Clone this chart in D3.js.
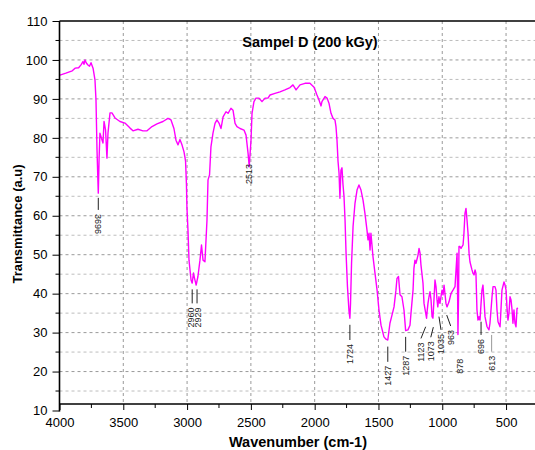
<!DOCTYPE html>
<html>
<head>
<meta charset="utf-8">
<script src="https://cdn.jsdelivr.net/npm/d3@7"></script>
<style>
  body { margin: 0; background: #fff; }
  text { font-family: "Liberation Sans", Arial, sans-serif; }
</style>
</head>
<body>
<svg id="chart" width="535" height="450"></svg>
<script>
// spectrum (wavenumber cm-1 -> transmittance)
const wavenumber = [3996, 3950, 3900, 3878, 3850, 3830, 3816, 3808, 3800, 3790, 3777, 3765, 3753, 3737, 3722, 3714, 3706, 3696, 3690, 3683,
	3671, 3659, 3651, 3639, 3628, 3620, 3604, 3589, 3565, 3526, 3487, 3447, 3424, 3385, 3346, 3314, 3275, 3236, 3189, 3150,
	3126, 3103, 3087, 3071, 3056, 3040, 3024, 3012, 3005, 3001, 2993, 2985, 2969, 2960, 2950, 2942, 2929, 2915, 2899, 2887,
	2875, 2860, 2844, 2836, 2824, 2813, 2797, 2781, 2766, 2750, 2734, 2718, 2695, 2679, 2656, 2640, 2624, 2609, 2585, 2554,
	2538, 2522, 2513, 2499, 2491, 2476, 2460, 2436, 2413, 2389, 2366, 2350, 2311, 2272, 2233, 2193, 2170, 2146, 2115, 2076,
	2037, 2005, 1982, 1966, 1950, 1943, 1919, 1903, 1888, 1872, 1856, 1841, 1833, 1825, 1817, 1809, 1802, 1794, 1786, 1778,
	1770, 1762, 1754, 1743, 1731, 1724, 1719, 1711, 1699, 1684, 1668, 1653, 1637, 1621, 1606, 1590, 1582, 1574, 1566, 1559,
	1543, 1527, 1511, 1496, 1480, 1457, 1441, 1427, 1410, 1394, 1378, 1363, 1355, 1343, 1331, 1316, 1300, 1287, 1269, 1253,
	1245, 1229, 1222, 1214, 1206, 1190, 1182, 1174, 1167, 1151, 1143, 1123, 1120, 1112, 1104, 1096, 1088, 1080, 1073, 1065,
	1057, 1049, 1041, 1035, 1026, 1018, 1010, 1002, 994, 986, 979, 971, 963, 947, 931, 916, 900, 892, 884, 880,
	877, 872, 869, 861, 853, 845, 837, 830, 822, 814, 806, 798, 790, 783, 767, 759, 751, 743, 736, 728,
	720, 712, 704, 696, 689, 681, 673, 665, 649, 634, 626, 610, 602, 587, 579, 571, 563, 547, 540, 532,
	516, 508, 500, 493, 485, 477, 469, 461, 453, 446, 438, 430, 422, 414, 406];

const transmittance = [96.1, 96.6, 97.2, 97.9, 98.0, 98.8, 99.6, 98.9, 100.0, 99.2, 98.7, 98.4, 99.3, 97.9, 94.9, 89.7, 76.9, 65.8, 74.3, 81.2,
	79.9, 78.7, 84.2, 82.0, 74.8, 81.2, 86.4, 86.4, 85.1, 84.2, 83.8, 82.5, 81.8, 82.2, 81.8, 81.8, 82.9, 83.6, 84.2, 85.0,
	84.6, 82.4, 79.4, 78.2, 79.6, 78.2, 76.4, 74.0, 68.0, 62.0, 56.3, 48.6, 43.5, 42.7, 45.3, 44.0, 42.2, 44.4, 48.6, 52.5,
	48.6, 48.2, 58.9, 69.2, 70.5, 77.7, 81.2, 83.7, 84.6, 83.8, 82.4, 85.4, 86.7, 86.3, 87.6, 87.1, 83.7, 82.9, 82.4, 82.0,
	80.7, 76.0, 72.6, 79.4, 86.3, 89.3, 90.2, 90.2, 89.3, 90.2, 90.2, 91.0, 91.4, 91.8, 92.3, 92.9, 93.6, 92.3, 93.6, 94.0,
	94.0, 93.0, 91.0, 89.7, 88.2, 89.3, 90.6, 90.2, 88.9, 86.3, 85.0, 84.6, 82.9, 79.4, 74.0, 70.9, 64.5, 71.7, 72.3, 68.0,
	64.9, 58.9, 50.4, 41.8, 35.5, 33.7, 37.5, 47.8, 57.3, 63.2, 66.6, 67.9, 66.6, 64.0, 60.6, 56.3, 53.8, 55.5, 51.2, 55.5,
	49.5, 45.2, 40.9, 35.8, 31.9, 28.9, 28.3, 28.1, 32.4, 34.5, 36.6, 40.9, 43.9, 44.4, 39.7, 39.2, 35.8, 30.5, 30.7, 31.9,
	35.0, 40.9, 46.5, 48.6, 47.8, 49.9, 51.6, 50.4, 47.4, 42.7, 37.5, 33.7, 35.0, 37.5, 39.2, 40.5, 38.4, 34.1, 33.7, 38.4,
	43.5, 41.8, 38.4, 36.6, 39.2, 37.5, 39.2, 40.9, 39.7, 42.2, 40.1, 37.5, 36.6, 37.9, 40.1, 40.9, 41.8, 46.1, 50.4, 40.9,
	29.5, 40.0, 52.1, 52.1, 51.6, 52.1, 52.5, 55.5, 60.6, 61.9, 58.9, 55.5, 50.4, 48.2, 46.1, 45.2, 44.8, 46.1, 45.2, 35.8,
	33.2, 34.1, 33.2, 37.5, 40.9, 42.2, 38.4, 34.1, 31.5, 30.7, 32.4, 39.2, 41.8, 41.8, 40.9, 35.8, 32.8, 31.5, 35.8, 40.9,
	43.0, 42.2, 40.9, 36.6, 33.2, 35.0, 39.2, 38.4, 35.8, 32.4, 35.8, 32.4, 31.5, 36.2, 36.3];

const xTicks = [4000, 3500, 3000, 2500, 2000, 1500, 1000, 500];
const yTicks = [10, 20, 30, 40, 50, 60, 70, 80, 90, 100, 110];

// peak labels: wn = where the leader starts, wnText = where the text sits,
// tFrom/tTo = leader ends in transmittance units, down = reads top-down
const peaks = [
	{ label: "3696", wn: 3696, wnText: 3696, tFrom: 64.6, tTo: 61.5, down: true },
	{ label: "2960", wn: 2960, wnText: 2968, tFrom: 41.1, tTo: 37.5 },
	{ label: "2929", wn: 2922, wnText: 2914, tFrom: 41.1, tTo: 37.5 },
	{ label: "2513", wn: 2513, wnText: 2513, tFrom: 73.3, tTo: 73.3, noLine: true },
	{ label: "1724", wn: 1724, wnText: 1724, tFrom: 32.0, tTo: 28.1 },
	{ label: "1427", wn: 1427, wnText: 1427, tFrom: 26.4, tTo: 22.5 },
	{ label: "1287", wn: 1287, wnText: 1287, tFrom: 28.9, tTo: 25.1 },
	{ label: "1123", wn: 1130, wnText: 1167, tFrom: 31.5, tTo: 28.5 },
	{ label: "1073", wn: 1070, wnText: 1090, tFrom: 31.4, tTo: 28.8 },
	{ label: "1035", wn: 1026, wnText: 1010, tFrom: 34.1, tTo: 30.7 },
	{ label: "963", wn: 965, wnText: 934, tFrom: 34.5, tTo: 31.7 },
	{ label: "878", wn: 861, wnText: 861, tFrom: 23.3, tTo: 23.3, noLine: true },
	{ label: "696", wn: 696, wnText: 696, tFrom: 32.8, tTo: 29.4 },
	{ label: "613", wn: 613, wnText: 613, tFrom: 29.4, tTo: 25.1, light: true }
];

const svg = d3.select("#chart");
const plotLeft = 59.5, plotTop = 21, plotRight = 535.4, yBottom = 410.5, xAxisY = 404;

const x = d3.scaleLinear().domain([4000, 270]).range([plotLeft, plotRight]);
const y = d3.scaleLinear().domain([10, 110]).range([yBottom, plotTop]);

// grid
const grid = svg.append("g");
d3.range(15, 110, 5).forEach(function (v) {
	grid.append("line")
		.attr("x1", plotLeft).attr("x2", plotRight)
		.attr("y1", y(v)).attr("y2", y(v))
		.attr("stroke", v % 10 === 0 ? "#9a9a9a" : "#bdbdbd")
		.attr("stroke-dasharray", "3,3");
});
xTicks.slice(1).forEach(function (v) {
	grid.append("line")
		.attr("x1", x(v)).attr("x2", x(v))
		.attr("y1", plotTop).attr("y2", xAxisY)
		.attr("stroke", "#9a9a9a")
		.attr("stroke-dasharray", "3,3");
});

// spectrum
const data = wavenumber.map((w, i) => ({ w: w, t: transmittance[i] }));
svg.append("path")
	.datum(data)
	.attr("fill", "none")
	.attr("stroke", "#ff00ff")
	.attr("stroke-width", 1.4)
	.attr("stroke-linejoin", "round")
	.attr("d", d3.line().x(d => x(d.w)).y(d => y(d.t)));

// peak annotations
const ann = svg.append("g");
peaks.forEach(function (p) {
	if (!p.noLine) {
		ann.append("line")
			.attr("x1", x(p.wn)).attr("y1", y(p.tFrom))
			.attr("x2", x(p.wn === 2960 || p.wn === 2922 ? p.wn : p.wnText)).attr("y2", y(p.tTo))
			.attr("stroke", p.light ? "#999" : "#222")
			.attr("stroke-width", 1);
	}
	const tx = x(p.wnText), ty = y(p.tTo) + (p.noLine ? 0 : 4);
	ann.append("text")
		.attr("transform", "translate(" + tx + "," + ty + ") rotate(" + (p.down ? 90 : -90) + ")")
		.attr("text-anchor", p.down ? "start" : "end")
		.attr("dy", "0.35em")
		.attr("font-size", "9px")
		.attr("fill", "#222")
		.text(p.label);
});

// axes
const yAxis = svg.append("g")
	.attr("transform", "translate(" + plotLeft + ",0)")
	.call(d3.axisLeft(y).tickValues(yTicks).tickSize(7).tickPadding(5).tickSizeOuter(0));
yAxis.selectAll(".tick text").attr("font-size", "13px").attr("fill", "#000");
yAxis.select(".domain").remove();
svg.append("g")
	.selectAll("line")
	.data(d3.range(15, 110, 10))
	.enter().append("line")
	.attr("x1", plotLeft - 4).attr("x2", plotLeft)
	.attr("y1", d => y(d)).attr("y2", d => y(d))
	.attr("stroke", "#000");

const xAxis = svg.append("g")
	.attr("transform", "translate(0," + xAxisY + ")")
	.call(d3.axisBottom(x).tickValues(xTicks).tickSize(6).tickPadding(8).tickSizeOuter(0).tickFormat(d3.format("d")));
xAxis.selectAll(".tick text").attr("font-size", "13px").attr("fill", "#000");
xAxis.select(".domain").remove();
svg.append("g")
	.selectAll("line")
	.data([3750, 3250, 2750, 2250, 1750, 1250, 750])
	.enter().append("line")
	.attr("x1", d => x(d)).attr("x2", d => x(d))
	.attr("y1", xAxisY).attr("y2", xAxisY + 4)
	.attr("stroke", "#000");

// frame lines
svg.append("line").attr("x1", plotLeft).attr("x2", plotLeft).attr("y1", plotTop).attr("y2", yBottom + 1)
	.attr("stroke", "#000").attr("stroke-width", 1.6);
svg.append("line").attr("x1", plotLeft).attr("x2", 535).attr("y1", xAxisY).attr("y2", xAxisY)
	.attr("stroke", "#000").attr("stroke-width", 1.6);
svg.append("line").attr("x1", plotLeft).attr("x2", 535).attr("y1", plotTop).attr("y2", plotTop)
	.attr("stroke", "#000").attr("stroke-width", 1.6);

// titles
svg.append("text")
	.attr("x", 310).attr("y", 47)
	.attr("text-anchor", "middle")
	.attr("font-size", "14.5px")
	.attr("font-weight", "bold")
	.text("Sampel D (200 kGy)");

svg.append("text")
	.attr("x", 298).attr("y", 447)
	.attr("text-anchor", "middle")
	.attr("font-size", "14.5px")
	.attr("font-weight", "bold")
	.text("Wavenumber (cm-1)");

svg.append("text")
	.attr("transform", "translate(22,224) rotate(-90)")
	.attr("text-anchor", "middle")
	.attr("font-size", "13px")
	.attr("font-weight", "bold")
	.text("Transmittance (a.u)");
</script>
</body>
</html>
